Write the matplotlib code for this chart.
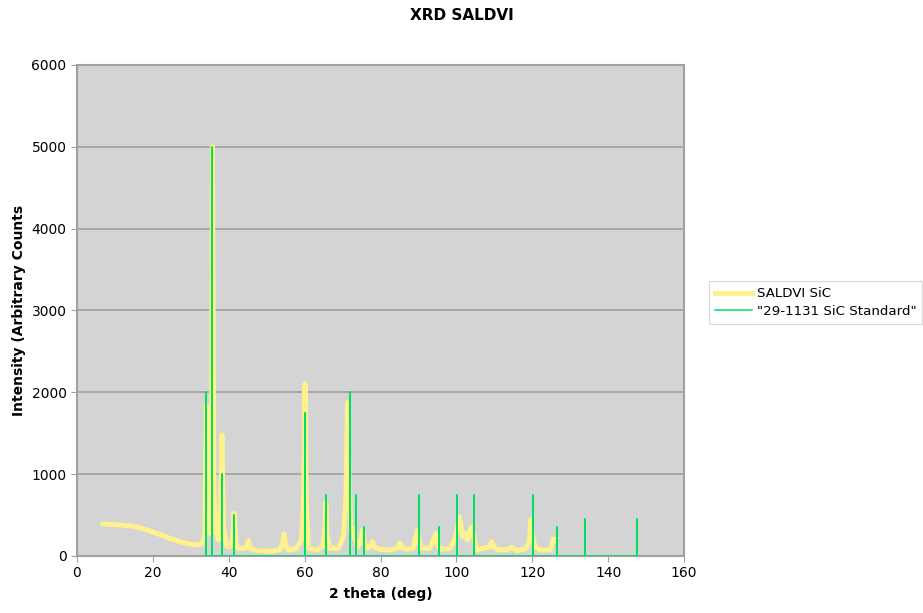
import numpy as np
import matplotlib
matplotlib.use("Agg")
import matplotlib.pyplot as plt

saldvi_2theta = [6.9, 9.0, 11.3, 13.5, 15.7, 17.0, 18.4, 19.7, 21.0, 22.8, 24.5, 26.2, 28.0, 29.8, 31.5,
                 33.0, 33.7, 34.1, 34.5, 35.0, 35.4, 35.7, 36.1, 36.6, 37.3, 37.8, 38.2, 38.6, 39.5,
                 40.3, 40.9, 41.4, 41.9, 42.5, 43.8, 44.8, 45.2, 45.6, 47.4, 49.5, 51.5, 53.5, 54.2,
                 54.6, 55.0, 55.7, 57.9, 59.2, 59.8, 60.1, 60.4, 61.0, 63.2, 64.8, 65.4, 65.6, 65.9,
                 66.7, 68.9, 70.2, 70.9, 71.3, 71.7, 72.2, 72.8, 73.3, 74.1, 74.8, 75.3, 75.8, 76.4,
                 77.5, 77.9, 78.4, 79.0, 80.0, 82.5, 84.5, 85.1, 85.7, 86.9, 88.6, 89.7, 90.3, 90.8,
                 93.0, 94.6, 95.0, 95.7, 98.3, 99.6, 100.8, 101.7, 102.3, 102.9, 104.0, 104.7, 105.4,
                 107.1, 108.7, 109.3, 109.9, 110.6, 113.3, 114.6, 115.9, 118.5, 119.3, 119.6, 120.0,
                 120.7, 122.0, 124.7, 125.5, 126.2]
saldvi_counts = [391, 385, 379, 370, 358, 340, 318, 298, 277, 245, 216, 190, 163, 147, 134,
                 150, 250, 1830, 600, 280, 900, 5000, 800, 300, 196, 400, 1480, 350, 120,
                 115, 160, 520, 150, 94, 90, 110, 187, 95, 65, 60, 60, 80, 150,
                 269, 140, 70, 94, 196, 800, 2100, 700, 94, 73, 120, 400, 652, 250,
                 94, 94, 236, 700, 1873, 900, 300, 338, 200, 115, 200, 318, 150, 94,
                 120, 175, 110, 94, 81, 73, 100, 163, 100, 81, 94, 310, 150, 94,
                 94, 277, 140, 81, 94, 204, 473, 236, 277, 196, 358, 200, 73,
                 94, 110, 175, 110, 81, 73, 106, 65, 94, 200, 440, 250,
                 115, 73, 73, 208, 200]

# 29-1131 SiC standard reflections
std_2theta = [34.1, 35.7, 38.2, 41.4, 60.1, 65.6, 71.9, 73.5, 75.6, 90.2, 95.3,
              100.2, 104.7, 120.3, 126.5, 133.9, 147.7]
std_counts = [2000, 5000, 1000, 500, 1750, 750, 2000, 750, 350, 750, 350,
              750, 750, 750, 350, 450, 450]

# stick pattern drawn as one line dropping back to zero
sx = np.repeat(std_2theta, 3)
sy = np.column_stack([np.zeros(len(std_counts)), std_counts, np.zeros(len(std_counts))]).ravel()

fig = plt.figure(figsize=(9.23, 6.13), dpi=100)
ax = fig.add_axes([0.0834, 0.093, 0.6577, 0.801])
ax.set_facecolor("#d4d4d4")

ax.plot(saldvi_2theta, saldvi_counts, color="#fff28c", lw=3.6, label="SALDVI SiC",
        solid_joinstyle="round", zorder=2)
ax.plot(sx, sy, color="#00e060", lw=1.1, label='"29-1131 SiC Standard"', zorder=3)

ax.set_xlim(0, 160)
ax.set_ylim(0, 6000)
ax.set_xticks(range(0, 161, 20))
ax.set_yticks(range(0, 6001, 1000))
ax.yaxis.grid(True, color="#a0a0a0", lw=1.2)
ax.set_axisbelow(True)
for s in ax.spines.values():
    s.set_color("#a0a0a0")
    s.set_linewidth(1.5)
ax.tick_params(colors="#a0a0a0", labelcolor="black", labelsize=10, length=4)

ax.set_xlabel("2 theta (deg)", fontsize=10, fontweight="bold", labelpad=5)
ax.set_ylabel("Intensity (Arbitrary Counts", fontsize=10, fontweight="bold", labelpad=4)
fig.text(0.5, 0.975, "XRD SALDVI", ha="center", va="center", fontsize=11, fontweight="bold")

leg = fig.legend(loc="center left", bbox_to_anchor=(0.768, 0.506), fontsize=9.6,
                 frameon=True, fancybox=False, edgecolor="#d0d0d0", handlelength=2.8,
                 borderpad=0.45, labelspacing=0.35, handletextpad=0.35, borderaxespad=0)
leg.get_frame().set_linewidth(0.8)

fig.savefig("out.png", dpi=100)
